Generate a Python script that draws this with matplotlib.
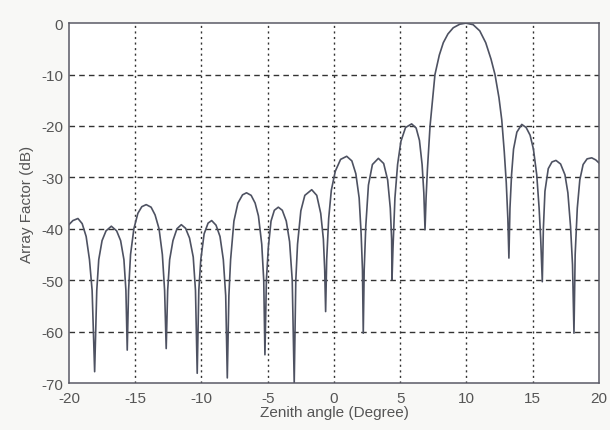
import matplotlib
matplotlib.use('Agg')
import matplotlib.pyplot as plt

# points (angle in degrees, array factor in dB)
angle_deg = [
    -20.0, -19.7, -19.32, -19.0, -18.7, -18.45, -18.25, -18.06,
    -17.9, -17.75, -17.5, -17.2, -16.8, -16.4, -16.1, -15.85, -15.7, -15.6,
    -15.5, -15.35, -15.1, -14.8, -14.5, -14.17, -13.8, -13.5, -13.2, -12.95, -12.78, -12.66,
    -12.55, -12.4, -12.15, -11.85, -11.52, -11.2, -10.9, -10.62, -10.45, -10.32,
    -10.2, -10.05, -9.8, -9.5, -9.23, -8.9, -8.6, -8.35, -8.17, -8.05,
    -7.93, -7.8, -7.55, -7.25, -6.9, -6.6, -6.25, -5.95, -5.7, -5.45, -5.3, -5.21,
    -5.1, -4.95, -4.75, -4.5, -4.2, -3.9, -3.6, -3.35, -3.15, -3.0,
    -2.88, -2.75, -2.5, -2.2, -1.68, -1.3, -1.0, -0.8, -0.7, -0.63,
    -0.55, -0.4, -0.2, 0.1, 0.5, 0.96, 1.35, 1.65, 1.9, 2.05, 2.15, 2.21,
    2.28, 2.4, 2.6, 2.9, 3.35, 3.75, 4.05, 4.25, 4.35, 4.38,
    4.45, 4.6, 4.8, 5.05, 5.4, 5.86, 6.2, 6.45, 6.65, 6.78, 6.87,
    6.95, 7.05, 7.25, 7.62, 7.95, 8.25, 8.6, 9.0, 9.5, 9.96, 10.5, 11.0,
    11.45, 11.85, 12.15, 12.45, 12.66, 12.85, 13.0, 13.12, 13.2,
    13.28, 13.4, 13.55, 13.8, 14.17, 14.5, 14.8, 15.05, 15.3, 15.48, 15.6, 15.72,
    15.8, 15.92, 16.17, 16.45, 16.75, 17.1, 17.43, 17.65, 17.85, 18.0, 18.11,
    18.2, 18.36, 18.55, 18.8, 19.1, 19.45, 19.75, 20.0,
]
af_db = [
    -39.2, -38.4, -38.0, -39.0, -41.5, -46.0, -52.0, -67.8,
    -52.0, -46.0, -42.3, -40.4, -39.5, -40.4, -42.3, -46.0, -52.0, -63.6,
    -52.0, -45.0, -40.0, -37.0, -35.7, -35.3, -35.8, -37.3, -40.0, -45.0, -52.0, -63.3,
    -52.0, -46.0, -42.3, -40.0, -39.2, -39.9, -41.8, -45.5, -52.0, -68.1,
    -52.0, -46.0, -41.0, -38.9, -38.4, -39.3, -41.5, -46.0, -53.0, -69.0,
    -53.0, -46.0, -38.5, -35.0, -33.4, -33.0, -33.5, -35.0, -37.5, -43.0, -50.0, -64.5,
    -50.0, -43.5, -38.5, -36.4, -35.8, -36.4, -38.5, -42.5, -50.0, -70.0,
    -50.0, -43.0, -36.5, -33.5, -32.4, -33.5, -37.0, -42.0, -48.0, -56.1,
    -46.0, -38.0, -32.5, -28.8, -26.5, -25.9, -26.8, -29.3, -34.0, -41.0, -48.0, -60.3,
    -48.0, -39.5, -31.5, -27.5, -26.3, -27.3, -30.5, -36.0, -42.0, -49.9,
    -44.0, -34.0, -27.5, -23.0, -20.3, -19.6, -20.4, -22.8, -27.5, -33.0, -40.2,
    -34.0, -28.5, -20.0, -10.0, -6.2, -3.8, -2.1, -0.9, -0.2, 0.0, -0.3, -1.5,
    -3.8, -7.0, -10.0, -14.5, -18.8, -25.0, -31.0, -38.0, -45.7,
    -36.0, -29.5, -24.5, -21.2, -19.7, -20.3, -21.8, -24.5, -29.5, -36.0, -42.0, -50.3,
    -40.0, -32.7, -28.3, -27.0, -26.7, -27.4, -29.5, -33.0, -39.5, -47.0, -60.3,
    -45.0, -36.0, -30.5, -27.5, -26.4, -26.2, -26.6, -27.2,
]

x_ticks = [-20, -15, -10, -5, 0, 5, 10, 15, 20]
y_ticks = [0, -10, -20, -30, -40, -50, -60, -70]

plt.rcParams['font.family'] = ['Liberation Sans', 'DejaVu Sans']
plt.rcParams['axes.unicode_minus'] = False

fig = plt.figure(figsize=(6.1, 4.31), dpi=100)
fig.patch.set_facecolor('#f8f8f6')
ax = fig.add_axes([0.113, 0.109, 0.869, 0.835])
ax.set_facecolor('white')

ax.plot(angle_deg, af_db, color='#4e5262', lw=1.2)

ax.set_xlim(-20, 20)
ax.set_ylim(-70, 0)
ax.set_xticks(x_ticks)
ax.set_yticks(y_ticks)
ax.tick_params(direction='in', length=0, labelsize=11, colors='#555555')
ax.tick_params(axis='x', pad=6)
ax.tick_params(axis='y', pad=4)

for v in x_ticks[1:-1]:
    ax.axvline(v, color='#333333', lw=1.0, ls=(0, (1.5, 2.5)), zorder=0)
for v in y_ticks[1:-1]:
    ax.axhline(v, color='#333333', lw=1.0, ls=(0, (4, 3)), zorder=0)

for s in ax.spines.values():
    s.set_color('#5a5a66')
    s.set_linewidth(1.1)

ax.set_xlabel('Zenith angle (Degree)', fontsize=11, color='#555555', labelpad=0)
ax.set_ylabel('Array Factor (dB)', fontsize=11, color='#555555', labelpad=5)

fig.savefig('out.png', dpi=100, facecolor=fig.get_facecolor())
